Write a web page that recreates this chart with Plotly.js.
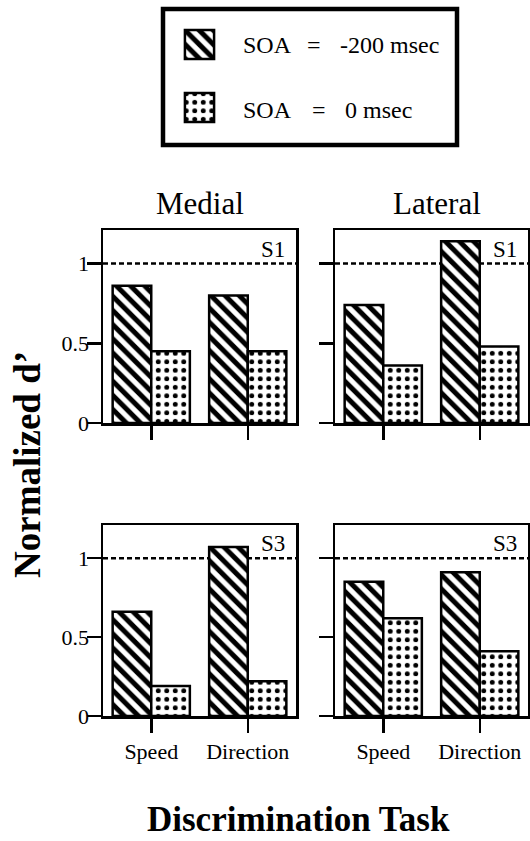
<!DOCTYPE html>
<html>
<head>
<meta charset="utf-8">
<script src="https://cdn.plot.ly/plotly-3.0.1.min.js"></script>
<style>html,body{margin:0;padding:0;background:#fff;}#chart{width:530px;height:841px;}</style>
</head>
<body>
<div id="chart"></div>
<script>
// ---- data ----
var categories = ['Speed', 'Direction'];
var seriesNames = ['SOA = -200 msec', 'SOA = 0 msec'];
var medialS1_m200 = [0.86, 0.80];
var medialS1_0    = [0.45, 0.45];
var lateralS1_m200 = [0.74, 1.14];
var lateralS1_0    = [0.36, 0.48];
var medialS3_m200 = [0.66, 1.07];
var medialS3_0    = [0.19, 0.22];
var lateralS3_m200 = [0.85, 0.91];
var lateralS3_0    = [0.62, 0.41];
var yTickVals = [0, 0.5, 1];
var yTickText = ['0', '0.5', '1'];
var panelLabels = ['S1', 'S1', 'S3', 'S3'];
var columnTitles = ['Medial', 'Lateral'];
var legendKey = [1];

// ---- styles ----
var FONT = 'Liberation Serif';
var hatch = {shape: '\\', size: 10, solidity: 0.5, fgcolor: '#000', bgcolor: '#fff', fillmode: 'replace'};
var dots = {shape: '.', size: 8.5, solidity: 0.26, fgcolor: '#000', bgcolor: '#fff', fillmode: 'replace'};
var outline = {color: '#000', width: 2.5};

function barTrace(vals, pattern, xa, ya, name) {
  return {type: 'bar', x: categories, y: vals, name: name, xaxis: xa, yaxis: ya,
    marker: {color: '#fff', pattern: pattern, line: outline}, showlegend: false, hoverinfo: 'skip'};
}

var panels = [
  [medialS1_m200, medialS1_0, 'x', 'y'],
  [lateralS1_m200, lateralS1_0, 'x2', 'y2'],
  [medialS3_m200, medialS3_0, 'x3', 'y3'],
  [lateralS3_m200, lateralS3_0, 'x4', 'y4']
];
var data = [];
panels.forEach(function (p) {
  data.push(barTrace(p[0], hatch, p[2], p[3], seriesNames[0]));
  data.push(barTrace(p[1], dots, p[2], p[3], seriesNames[1]));
});
// legend keys
data.push({type: 'bar', orientation: 'h', x: legendKey, y: [seriesNames[0]], xaxis: 'x5', yaxis: 'y5',
  width: 0.46, offset: -0.23, marker: {color: '#fff', pattern: hatch, line: outline}, showlegend: false, hoverinfo: 'skip'});
data.push({type: 'bar', orientation: 'h', x: legendKey, y: [seriesNames[1]], xaxis: 'x5', yaxis: 'y5',
  width: 0.46, offset: -0.23, marker: {color: '#fff', pattern: dots, line: outline}, showlegend: false, hoverinfo: 'skip'});

var W = 530, H = 841;
function px(x) { return x / W; }
function py(y) { return 1 - y / H; }

var colX = [[px(103), px(296)], [px(335), px(528)]];
var rowY = [[py(423), py(230)], [py(716), py(525)]];

function xAx(col, row) {
  return {domain: colX[col], anchor: ['y', 'y2', 'y3', 'y4'][row * 2 + col], type: 'category',
    range: [-0.5, 1.5], showline: true, mirror: true, linecolor: '#000', linewidth: 2.5,
    ticks: 'outside', ticklen: 14, tickwidth: 2.5, tickcolor: '#000', showgrid: false, zeroline: false,
    showticklabels: row === 1, tickfont: {family: FONT, size: 22, color: '#000'}, fixedrange: true};
}
function yAx(col, row) {
  return {domain: rowY[row], anchor: ['x', 'x2', 'x3', 'x4'][row * 2 + col], range: [0, 1.21],
    showline: true, mirror: true, linecolor: '#000', linewidth: 2.5,
    ticks: 'outside', ticklen: 14, tickwidth: 2.5, tickcolor: '#000', showgrid: false, zeroline: false,
    tickmode: 'array', tickvals: yTickVals, ticktext: yTickText, ticklabelstandoff: -7,
    showticklabels: col === 0, tickfont: {family: FONT, size: 22, color: '#000'}, fixedrange: true};
}

var shapes = [];
var annotations = [];
['x', 'x2', 'x3', 'x4'].forEach(function (xa, i) {
  var ya = ['y', 'y2', 'y3', 'y4'][i];
  shapes.push({type: 'line', xref: xa + ' domain', yref: ya, x0: 0, x1: 1, y0: 1, y1: 1,
    line: {color: '#000', width: 2.5, dash: '5px,3px'}, layer: 'below'});
  annotations.push({xref: xa + ' domain', yref: ya, x: 0.955, y: 1.0, xanchor: 'right', yanchor: 'bottom',
    text: panelLabels[i], showarrow: false, font: {family: FONT, size: 23, color: '#000'}});
});
// legend box
shapes.push({type: 'rect', xref: 'paper', yref: 'paper', x0: px(163), x1: px(457), y0: py(145), y1: py(9),
  line: {color: '#000', width: 4.5}});

var lf = {family: FONT, size: 24, color: '#000'};
[[241, 45, 'SOA'], [305, 45, '='], [338, 45, '-200 msec'],
 [241, 110, 'SOA'], [310, 110, '='], [343, 110, '0 msec']].forEach(function (t) {
  annotations.push({xref: 'paper', yref: 'paper', x: px(t[0]), y: py(t[1]), xanchor: 'left', yanchor: 'middle',
    text: t[2], showarrow: false, font: lf});
});
// column titles
annotations.push({xref: 'paper', yref: 'paper', x: px(200), y: py(204), xanchor: 'center', yanchor: 'middle',
  text: columnTitles[0], showarrow: false, font: {family: FONT, size: 31, color: '#000'}});
annotations.push({xref: 'paper', yref: 'paper', x: px(437), y: py(204), xanchor: 'center', yanchor: 'middle',
  text: columnTitles[1], showarrow: false, font: {family: FONT, size: 31, color: '#000'}});
// axis titles
annotations.push({xref: 'paper', yref: 'paper', x: px(27.5), y: py(464.5), xanchor: 'center', yanchor: 'middle',
  text: '<b>Normalized d\u2019</b>', textangle: -90, showarrow: false, font: {family: FONT, size: 37, color: '#000'}});
annotations.push({xref: 'paper', yref: 'paper', x: px(298), y: py(819), xanchor: 'center', yanchor: 'middle',
  text: '<b>Discrimination Task</b>', showarrow: false, font: {family: FONT, size: 35, color: '#000'}});

var layout = {
  width: W, height: H, margin: {l: 0, r: 0, t: 0, b: 0},
  paper_bgcolor: '#fff', plot_bgcolor: '#fff',
  barmode: 'group', bargap: 0.2, bargroupgap: 0, showlegend: false,
  xaxis: xAx(0, 0), yaxis: yAx(0, 0),
  xaxis2: xAx(1, 0), yaxis2: yAx(1, 0),
  xaxis3: xAx(0, 1), yaxis3: yAx(0, 1),
  xaxis4: xAx(1, 1), yaxis4: yAx(1, 1),
  xaxis5: {domain: [px(182), px(217)], anchor: 'y5', range: [-0.1, 1.1], visible: false, fixedrange: true},
  yaxis5: {domain: [py(139), py(13)], anchor: 'x5', type: 'category', categoryorder: 'array',
    categoryarray: [seriesNames[1], seriesNames[0]], range: [-0.5, 1.5], visible: false, fixedrange: true},
  shapes: shapes, annotations: annotations
};

Plotly.newPlot('chart', data, layout, {displayModeBar: false, staticPlot: true});
</script>
</body>
</html>
